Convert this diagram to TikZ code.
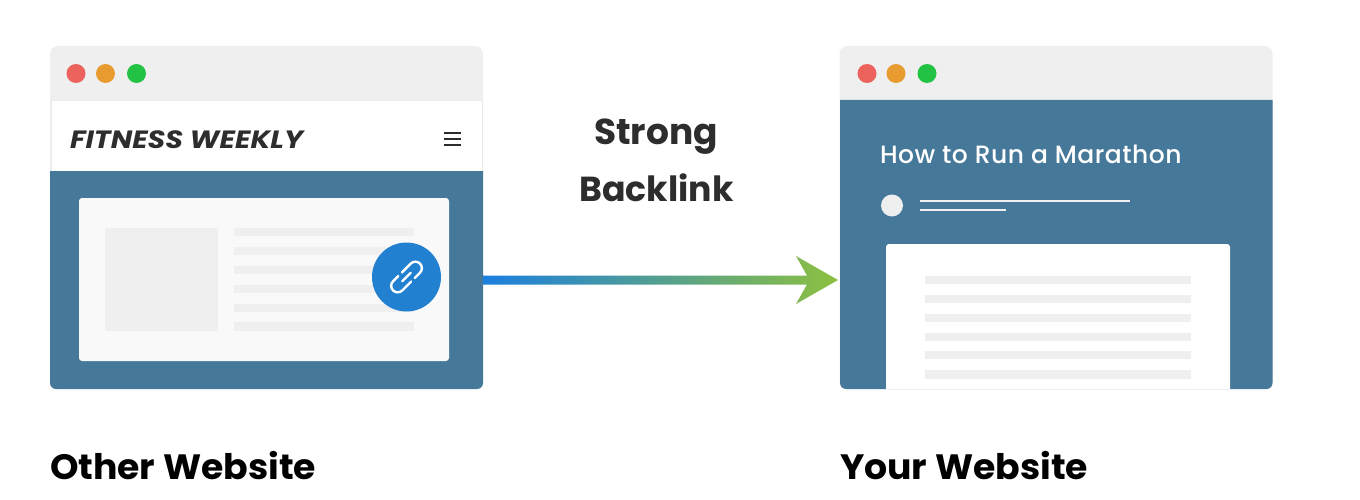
\documentclass[tikz,border=0pt]{standalone}
\usepackage{fontspec}
\setmainfont{Poppins}
\newfontfamily\brandfont[FakeStretch=1.14]{Poppins}
\newfontfamily\titlefont[LetterSpace=1.9]{Poppins Medium}
\newfontfamily\captionfont[FakeStretch=1.03]{Poppins}
\definecolor{winblue}{HTML}{457899}
\definecolor{bargray}{HTML}{EFEFEF}
\definecolor{cardgray}{HTML}{F9F9F9}
\definecolor{dotred}{HTML}{EC625C}
\definecolor{dotorange}{HTML}{E89C30}
\definecolor{dotgreen}{HTML}{22C244}
\definecolor{linkblue}{HTML}{2280D0}
\definecolor{arrowblue}{HTML}{1B7FE0}
\definecolor{arrowmid}{HTML}{4F9A88}
\definecolor{arrowgreen}{HTML}{8DC03F}
\definecolor{inkgray}{HTML}{2D2D2D}
\begin{document}
\begin{tikzpicture}[x=1pt, y=-1pt, every node/.style={inner sep=0pt, outer sep=0pt},
                      winbox/.style={fill=bargray, rounded corners=8pt, minimum width=433pt, minimum height=343pt},
                      dotnode/.style={circle, minimum size=19pt},
                      barnode/.style={fill=bargray, minimum height=8.5pt, anchor=west},
                      ruleline/.style={draw=bargray, line width=2pt},
                      headline/.style={font=\fontsize{36}{36}\selectfont\bfseries, text=inkgray, anchor=base},
                      caption/.style={font=\captionfont\fontsize{35.2}{36}\selectfont\bfseries, text=black, anchor=base west}]
                  \useasboundingbox (0,0) rectangle (1360,500);
                  % left window
                  \node[winbox] (otherwin) at (266.5,217.5) {};
                  \fill[winblue] (50,171) -- (483,171) [rounded corners=6pt] -- (483,389) -- (50,389) [sharp corners] -- cycle;
                  \node[fill=white, draw=black!8, line width=.8pt, minimum width=431pt, minimum height=71pt] (header) at (266.5,135.5) {};
                  \fill[winblue] (50,171) rectangle (483,180);
                  \node[dotnode, fill=dotred] (redl) at (76,73.5) {};
                  \node[dotnode, fill=dotorange] (orangel) at (105.5,73.5) {};
                  \node[dotnode, fill=dotgreen] (greenl) at (136.5,73.5) {};
                  \node[font=\brandfont\fontsize{25}{25}\selectfont\bfseries\itshape, text=inkgray, anchor=base west] (brand) at (70,148.7) {FITNESS WEEKLY};
                  \node (menu) at (452.5,139) {};
                  \draw[inkgray, line width=1.5pt] ([shift={(-8.5pt,6pt)}]menu.center) -- ([shift={(8.5pt,6pt)}]menu.center);
                  \draw[inkgray, line width=1.5pt] ([xshift=-8.5pt]menu.center) -- ([xshift=8.5pt]menu.center);
                  \draw[inkgray, line width=1.5pt] ([shift={(-8.5pt,-6pt)}]menu.center) -- ([shift={(8.5pt,-6pt)}]menu.center);
                  \node[fill=cardgray, rounded corners=3pt, minimum width=370pt, minimum height=163pt] (cardl) at (264,279.5) {};
                  \node[fill=bargray, minimum width=113pt, minimum height=103pt] (thumb) at (161.5,279.5) {};
                  \node[barnode, minimum width=180pt] (l1) at (234,232) {};
                  \node[barnode, minimum width=180pt] (l2) at (234,251) {};
                  \node[barnode, minimum width=180pt] (l3) at (234,270) {};
                  \node[barnode, minimum width=180pt] (l4) at (234,289) {};
                  \node[barnode, minimum width=180pt] (l5) at (234,308) {};
                  \node[barnode, minimum width=180pt] (l6) at (234,326.5) {};
                  \node[circle, fill=linkblue, minimum size=69pt] (linkbadge) at (406.5,277) {};
                  \begin{scope}[shift={(linkbadge.center)}, rotate=45, draw=white, line width=2.4pt, line cap=round]
                  \draw[rounded corners=6.5pt] (0,-6.5) -- (19,-6.5) -- (19,6.5) -- (5,6.5);
                  \draw[rounded corners=6.5pt] (0,6.5) -- (-19,6.5) -- (-19,-6.5) -- (-5,-6.5);
                  \draw (-6,0) -- (6,0);
                  \end{scope}
                  % right window
                  \node[winbox] (yourwin) at (1056,217.5) {};
                  \fill[winblue] (840,100) -- (1272.5,100) [rounded corners=6pt] -- (1272.5,389) -- (840,389) [sharp corners] -- cycle;
                  \node[dotnode, fill=dotred] (redr) at (867,73.5) {};
                  \node[dotnode, fill=dotorange] (oranger) at (896,73.5) {};
                  \node[dotnode, fill=dotgreen] (greenr) at (927,73.5) {};
                  \node[font=\titlefont\fontsize{25}{25}\selectfont, text=white, anchor=base west] (posttitle) at (880,164) {How to Run a Marathon};
                  \node[circle, fill=bargray, minimum size=22pt] (avatar) at (892,205.5) {};
                  \draw[ruleline] (920,200.7) -- (1130,200.7);
                  \draw[ruleline] (920,209.7) -- (1006,209.7);
                  \fill[white] (886,389) [rounded corners=3pt] -- (886,244) -- (1230,244) [sharp corners] -- (1230,389) -- cycle;
                  \node[barnode, minimum width=266pt] (r1) at (925,280) {};
                  \node[barnode, minimum width=266pt] (r2) at (925,299) {};
                  \node[barnode, minimum width=266pt] (r3) at (925,318) {};
                  \node[barnode, minimum width=266pt] (r4) at (925,337) {};
                  \node[barnode, minimum width=266pt] (r5) at (925,355) {};
                  \node[barnode, minimum width=266pt] (r6) at (925,374.5) {};
                  % backlink arrow
                  \coordinate (linkstart) at (otherwin.east |- 0,280);
                  \coordinate (linkend) at (838,280);
                  \shade[left color=arrowblue, middle color=arrowmid, right color=arrowgreen]
                      ([yshift=4.5pt]linkstart) -- ([shift={(-31pt,4.5pt)}]linkend) -- ([shift={(-42pt,24pt)}]linkend) -- (linkend)
                      -- ([shift={(-42pt,-24pt)}]linkend) -- ([shift={(-31pt,-4.5pt)}]linkend) -- ([yshift=-4.5pt]linkstart) -- cycle;
                  % labels
                  \node[headline] (strong) at (656,145) {Strong};
                  \node[headline, font=\fontsize{34.7}{36}\selectfont\bfseries] (backlink) at (656.5,201) {Backlink};
                  \node[caption] (otherlabel) at (50,479) {Other Website};
                  \node[caption] (yourlabel) at (840,479) {Your Website};
              \end{tikzpicture}
\end{document}
